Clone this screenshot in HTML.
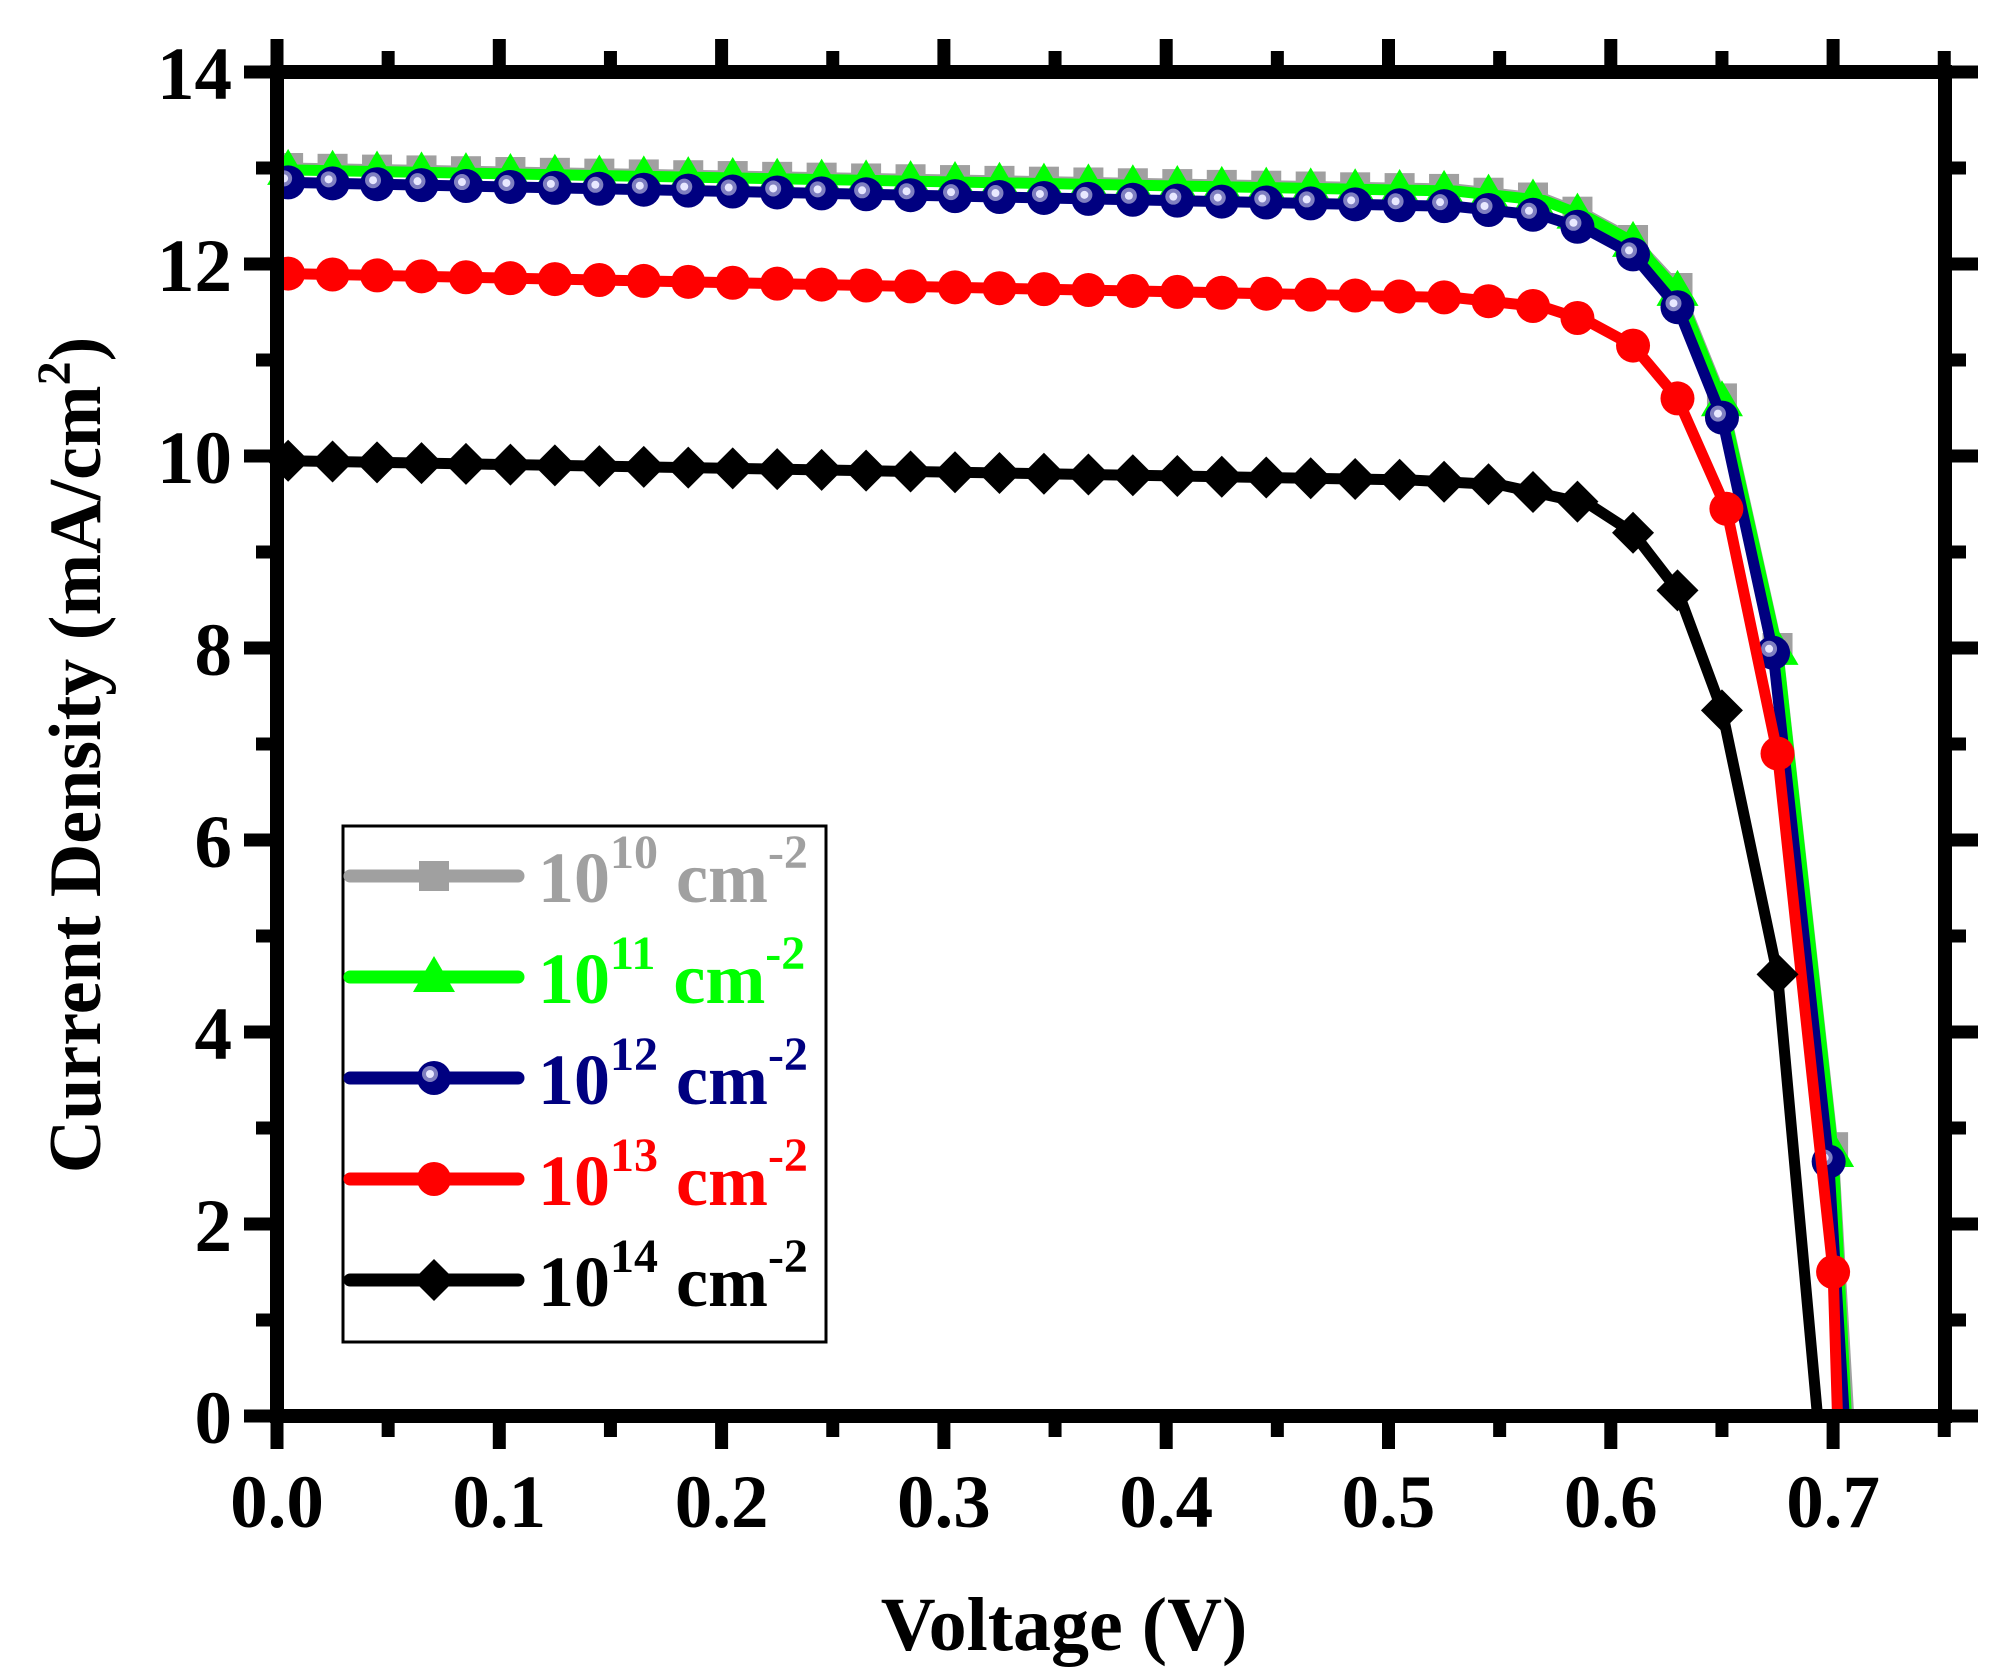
<!DOCTYPE html>
<html><head><meta charset="utf-8">
<style>
html,body{margin:0;padding:0;background:#fff;}
svg{display:block;}
text{font-family:"Liberation Serif",serif;font-weight:bold;}
</style></head>
<body>
<svg id="s" width="2003" height="1676" viewBox="0 0 2003 1676" xmlns="http://www.w3.org/2000/svg">
<rect width="2003" height="1676" fill="#fff"/>
<g id="plot"></g>
<g id="axes"></g>
<rect x="343" y="826" width="483" height="516" fill="#fff" stroke="#000" stroke-width="3"/>
<g id="leg"></g>
<text x="1064" y="1650" font-size="76" text-anchor="middle">Voltage (V)</text>
<text transform="translate(100,755) rotate(-90)" font-size="74" text-anchor="middle">Current Density (mA/cm<tspan font-size="48" dy="-30">2</tspan><tspan dy="30">)</tspan></text>
</svg>
<script>
const NS="http://www.w3.org/2000/svg";
const X=v=>277+v*2223, Y=j=>1416-j*96;
function el(p,t,a){const e=document.createElementNS(NS,t);for(const k in a)e.setAttribute(k,a[k]);p.appendChild(e);return e;}
const plot=document.getElementById('plot'),axes=document.getElementById('axes'),leg=document.getElementById('leg');
const series=[
 {c:'#a0a0a0',m:'sq',k:[[0.005,13.0],[0.53,12.78],[0.57,12.68],[0.59,12.5],[0.61,12.25],[0.63,11.75],[0.65,10.6],[0.675,8.0],[0.70,2.8],[0.707,0]]},
 {c:'#00ff00',m:'tri',k:[[0.005,12.98],[0.53,12.76],[0.57,12.66],[0.59,12.48],[0.61,12.23],[0.63,11.72],[0.65,10.57],[0.675,7.98],[0.70,2.75],[0.706,0]]},
 {c:'#000080',m:'ball',k:[[0.005,12.85],[0.53,12.6],[0.55,12.55],[0.57,12.5],[0.59,12.35],[0.61,12.1],[0.63,11.55],[0.65,10.4],[0.673,7.95],[0.698,2.65],[0.705,0]]},
 {c:'#ff0000',m:'dot',k:[[0.005,11.9],[0.53,11.65],[0.55,11.6],[0.57,11.55],[0.59,11.4],[0.61,11.15],[0.63,10.6],[0.652,9.45],[0.675,6.9],[0.70,1.5],[0.702,0]]},
 {c:'#000000',m:'dia',k:[[0.005,9.95],[0.51,9.75],[0.55,9.7],[0.57,9.6],[0.59,9.5],[0.61,9.2],[0.63,8.6],[0.65,7.35],[0.675,4.6],[0.693,0]]}
];
function interp(k,v){for(let i=0;i<k.length-1;i++){if(v<=k[i+1][0]){const t=(v-k[i][0])/(k[i+1][0]-k[i][0]);return k[i][1]+t*(k[i+1][1]-k[i][1]);}}return k[k.length-1][1];}
function marker(g,m,c,x,y){
 if(m==='sq')el(g,'rect',{x:x-15,y:y-15,width:30,height:30,fill:c});
 else if(m==='tri')el(g,'polygon',{points:`${x},${y-21} ${x+21},${y+15} ${x-21},${y+15}`,fill:c});
 else if(m==='ball'){el(g,'circle',{cx:x,cy:y,r:17,fill:c});el(g,'circle',{cx:x-4,cy:y-4,r:8,fill:'#7f7fc0'});el(g,'circle',{cx:x-4,cy:y-4,r:4,fill:'#e8e8ff'});}
 else if(m==='dot')el(g,'circle',{cx:x,cy:y,r:17,fill:c});
 else if(m==='dia')el(g,'polygon',{points:`${x},${y-21} ${x+21},${y} ${x},${y+21} ${x-21},${y}`,fill:c});
}
const mx=[];for(let i=0;i<30;i++)mx.push(0.005+0.02*i);
series.forEach(s=>{
 const k=s.k;let pts=[];
 for(let i=0;i<k.length;i++)pts.push(X(k[i][0]).toFixed(1)+','+Y(k[i][1]).toFixed(1));
 el(plot,'polyline',{points:pts.join(' '),fill:'none',stroke:s.c,'stroke-width':11,'stroke-linejoin':'round'});
 let ms=mx.slice();
 k.forEach(p=>{if(p[0]>0.6&&p[1]>0)ms.push(p[0]);});
 ms.forEach(v=>marker(plot,s.m,s.c,X(v),Y(interp(k,v))));
});
el(axes,'rect',{x:277,y:72,width:1668,height:1344,fill:'none',stroke:'#000','stroke-width':14});
for(let i=0;i<=15;i++){const v=i*0.05,x=X(v);const maj=i%2===0,L=maj?26:14;
 el(axes,'line',{x1:x,y1:1416,x2:x,y2:1416+7+L,stroke:'#000','stroke-width':13});
 el(axes,'line',{x1:x,y1:72,x2:x,y2:72-7-L,stroke:'#000','stroke-width':13});
 if(maj&&i<=14){const t=el(axes,'text',{x:x,y:1527,'font-size':75,'text-anchor':'middle'});t.textContent=v.toFixed(1);}
}
for(let j=0;j<=14;j++){const y=Y(j);const maj=j%2===0,L=maj?26:14;
 el(axes,'line',{x1:277,y1:y,x2:277-7-L,y2:y,stroke:'#000','stroke-width':13});
 el(axes,'line',{x1:1945,y1:y,x2:1945+7+L,y2:y,stroke:'#000','stroke-width':13});
 if(maj){const t=el(axes,'text',{x:232,y:y+27,'font-size':75,'text-anchor':'end'});t.textContent=j;}
}
const labs=['10','11','12','13','14'];
series.forEach((s,i)=>{const y=876+i*101;
 el(leg,'line',{x1:350,y1:y,x2:518,y2:y,stroke:s.c,'stroke-width':13,'stroke-linecap':'round'});
 marker(leg,s.m,s.c,434,y);
 const t=el(leg,'text',{x:538,y:y+26,'font-size':72,fill:s.c});
 t.innerHTML=`10<tspan font-size="48" dy="-34">${labs[i]}</tspan><tspan dy="34"> cm</tspan><tspan font-size="48" dy="-34">-2</tspan>`;
});
</script>
</body></html>
